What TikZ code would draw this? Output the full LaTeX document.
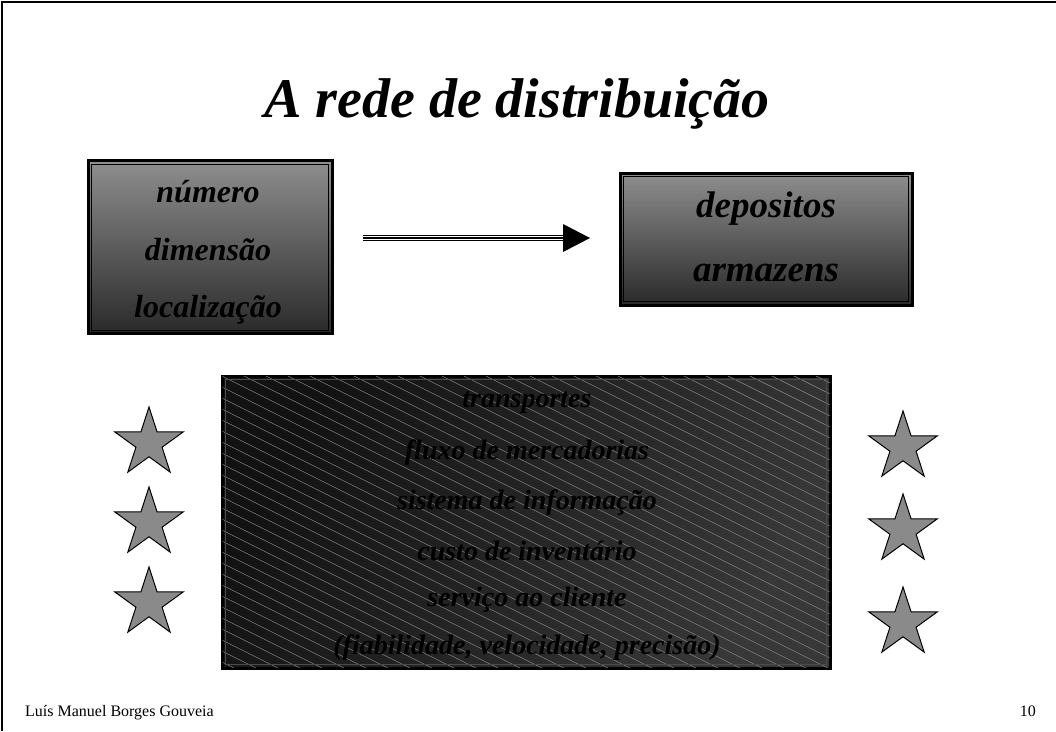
\documentclass[tikz,border=0pt]{standalone}
\usepackage{fontspec}
\setmainfont{Liberation Serif}
\usetikzlibrary{calc}
\usetikzlibrary{positioning}
\usetikzlibrary{shapes.geometric}

\definecolor{boxtop}{HTML}{8E8E8E}
\definecolor{boxbot}{HTML}{2A2A2A}
\definecolor{starfill}{HTML}{8A8A8A}
\definecolor{hatch}{HTML}{8C8C8C}

\tikzset{
    shadebox/.style={draw=black, line width=3pt, top color=boxtop, bottom color=boxbot, inner sep=0pt},
    darkbox/.style={draw=black, line width=3pt, left color=black!93, right color=black!78, shading angle=60, inner sep=0pt},
    boxtext/.style={font=\fontsize{32}{32}\selectfont\bfseries\itshape},
    bigtext/.style={font=\fontsize{37}{37}\selectfont\bfseries\itshape},
    listtext/.style={font=\fontsize{28}{28}\selectfont\bfseries\itshape, text=black},
    starshape/.style={star, star points=5, star point ratio=2.618, minimum size=72pt, inner sep=0pt, draw=black, line width=1pt, fill=starfill},
}

\begin{document}
\begin{tikzpicture}[x=1pt, y=-1pt]
    \useasboundingbox (0,0) rectangle (1056,731);
    \draw[line width=2pt] (2,731) -- (2,1.5) -- (1056,1.5);

    % title
    \node[anchor=base, font=\fontsize{56}{56}\selectfont\bfseries\itshape] (title) at (517,117) {A rede de distribuição};

    % left box
    \node[shadebox, minimum width=244pt, minimum height=173pt] (params) at (210,247) {};
    \draw[line width=0.8pt] ($(params.north west)+(5,5)$) rectangle ($(params.south east)+(-5,-5)$);
    \node[boxtext] (numero) at (208,192) {número};
    \node[boxtext] (dimensao) at (208,250) {dimensão};
    \node[boxtext] (localizacao) at (208,310) {localização};

    % right box
    \node[shadebox, minimum width=292pt, minimum height=132pt] (stores) at (766,239) {};
    \draw[line width=0.8pt] ($(stores.north west)+(5,5)$) rectangle ($(stores.south east)+(-5,-5)$);
    \node[bigtext] (depositos) at (766,209) {depositos};
    \node[bigtext] (armazens) at (766,273) {armazens};

    % arrow
    \coordinate (arrtail) at (363,238);
    \coordinate (arrbase) at (563,238);
    \coordinate (arrtip) at (590,238);
    \draw[line width=1.6pt, double=white, double distance=3.6pt] (arrtail) -- (arrbase);
    \draw[line width=1.3pt] (arrtail) -- (arrbase);
    \fill ($(arrbase)+(0,-14)$) -- (arrtip) -- ($(arrbase)+(0,14)$) -- cycle;

    % big box
    \node[darkbox, minimum width=608pt, minimum height=292pt] (factors) at (526,522) {};
    \begin{scope}
        \clip ($(factors.north west)+(2,2)$) rectangle ($(factors.south east)+(-2,-2)$);
        \foreach \k in {-30,...,30}
            \draw[hatch, line width=0.45pt] (222+\k*22,376) -- ++(620,310);
    \end{scope}
    \draw[line width=0.8pt, black!70] ($(factors.north west)+(5,5)$) rectangle ($(factors.south east)+(-5,-5)$);
    \node[listtext] (transp) at (527,403) {transportes};
    \node[listtext] (fluxo) at (527,453) {fluxo de mercadorias};
    \node[listtext] (sistema) at (527,503) {sistema de informação};
    \node[listtext] (custo) at (527,551) {custo de inventário};
    \node[listtext] (servico) at (527,600) {serviço ao cliente};
    \node[listtext] (fiab) at (527,648) {(fiabilidade, velocidade, precisão)};

    % stars
    \node[starshape] (sl1) at (149,443) {};
    \node[starshape] (sl2) at (149,523) {};
    \node[starshape] (sl3) at (149,603) {};
    \node[starshape] (sr1) at (903,447) {};
    \node[starshape] (sr2) at (903,530) {};
    \node[starshape] (sr3) at (903,623) {};

    % footer
    \node[anchor=base west, font=\fontsize{16}{16}\selectfont, inner sep=0pt] (author) at (25,716) {Luís Manuel Borges Gouveia};
    \node[anchor=base east, font=\fontsize{16}{16}\selectfont, inner sep=0pt] (pagenum) at (1036,716) {10};
\end{tikzpicture}
\end{document}
